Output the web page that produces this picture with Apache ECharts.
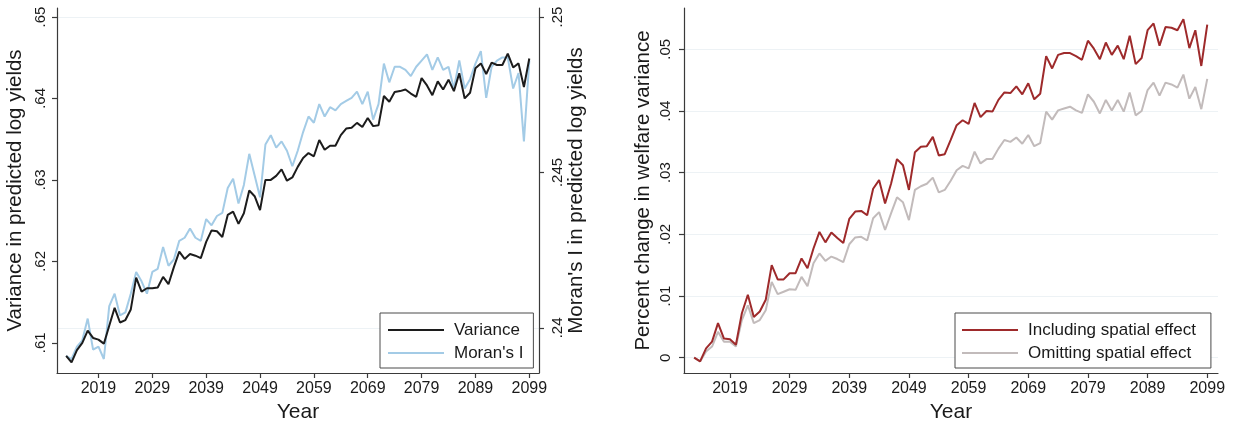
<!DOCTYPE html>
<html>
<head>
<meta charset="utf-8">
<script src="https://cdn.jsdelivr.net/npm/echarts@6/dist/echarts.min.js"></script>
<style>
html,body{margin:0;padding:0;background:#fff;}
#c{width:1237px;height:424px;}
</style>
</head>
<body>
<div id="c"></div>
<script>
const years = [2013,2014,2015,2016,2017,2018,2019,2020,2021,2022,2023,2024,2025,2026,2027,2028,2029,2030,
2031,2032,2033,2034,2035,2036,2037,2038,2039,2040,2041,2042,2043,2044,2045,2046,2047,2048,2049,2050,
2051,2052,2053,2054,2055,2056,2057,2058,2059,2060,2061,2062,2063,2064,2065,2066,2067,2068,2069,2070,
2071,2072,2073,2074,2075,2076,2077,2078,2079,2080,2081,2082,2083,2084,2085,2086,2087,2088,2089,2090,
2091,2092,2093,2094,2095,2096,2097,2098,2099];
const xTickYears = [2019,2029,2039,2049,2059,2069,2079,2089,2099];

const varianceVals = [.6084,.6076,.6091,.6100,.6115,.6106,.6104,.6099,.6121,.6143,.6125,.6128,.6141,.6180,.6163,.6167,.6167,.6168,
.6181,.6172,.6193,.6212,.6203,.6209,.6207,.6204,.6224,.6238,.6237,.6230,.6257,.6261,.6246,.6259,.6287,.6280,.6263,.6300,
.6300,.6305,.6313,.6299,.6303,.6316,.6327,.6333,.6329,.6349,.6337,.6342,.6342,.6355,.6363,.6364,.6370,.6365,.6376,.6366,
.6367,.6403,.6396,.6408,.6409,.6411,.6406,.6402,.6425,.6416,.6404,.6421,.6411,.6423,.6409,.6431,.6400,.6407,.6437,.6443,
.6430,.6444,.6441,.6441,.6455,.6438,.6443,.6414,.6449];

const moranVals = [.2391,.2390,.2394,.2396,.2403,.2393,.2394,.2390,.2407,.2411,.2404,.2405,.2411,.2418,.2415,.2411,.2418,.2419,
.2426,.2420,.2422,.2428,.2429,.2432,.2429,.2428,.2435,.2433,.2436,.2437,.2445,.2448,.2440,.2446,.2456,.2449,.2442,.2459,
.2462,.2458,.2460,.2457,.2452,.2457,.2463,.2468,.2466,.2472,.2468,.2471,.2470,.2472,.2473,.2474,.2476,.2472,.2476,.2467,
.2472,.2485,.2479,.2484,.2484,.2483,.2481,.2484,.2486,.2488,.2483,.2487,.2483,.2484,.2477,.2486,.2477,.2480,.2485,.2489,
.2474,.2484,.2486,.2487,.2487,.2477,.2482,.2460,.2486];

const inclVals = [.0000,-.0006,.0015,.0026,.0056,.0031,.0030,.0021,.0072,.0102,.0066,.0075,.0094,.0150,.0127,.0127,.0137,.0137,
.0161,.0145,.0177,.0204,.0187,.0203,.0194,.0186,.0225,.0237,.0238,.0231,.0274,.0288,.0250,.0282,.0322,.0312,.0272,.0333,
.0342,.0343,.0358,.0328,.0330,.0353,.0377,.0385,.0379,.0413,.0390,.0400,.0399,.0418,.0430,.0429,.0440,.0427,.0445,.0419,
.0428,.0489,.0469,.0491,.0494,.0494,.0489,.0483,.0514,.0501,.0484,.0511,.0491,.0506,.0484,.0522,.0476,.0486,.0531,.0542,
.0506,.0536,.0535,.0531,.0549,.0502,.0531,.0473,.0540];

const omitVals = [.0000,-.0006,.0010,.0018,.0042,.0026,.0026,.0018,.0061,.0085,.0056,.0061,.0077,.0123,.0103,.0107,.0111,.0110,
.0131,.0116,.0153,.0169,.0157,.0164,.0160,.0155,.0184,.0195,.0196,.0190,.0226,.0236,.0207,.0234,.0260,.0252,.0223,.0272,
.0278,.0282,.0292,.0268,.0272,.0287,.0304,.0311,.0307,.0334,.0315,.0322,.0322,.0339,.0353,.0350,.0357,.0347,.0361,.0343,
.0348,.0399,.0386,.0401,.0404,.0407,.0401,.0397,.0427,.0415,.0396,.0418,.0401,.0418,.0399,.0430,.0393,.0400,.0434,.0446,
.0425,.0446,.0443,.0438,.0459,.0420,.0439,.0403,.0452];

const varTicks = [0.61, 0.62, 0.63, 0.64, 0.65];
const moranTicks = [0.24, 0.245, 0.25];
const welfareTicks = [0, 0.01, 0.02, 0.03, 0.04, 0.05];

const seriesNames = ['Variance', "Moran's I", 'Including spatial effect', 'Omitting spatial effect'];
const xTitle = 'Year';
const yTitles = ['Variance in predicted log yields', "Moran's I in predicted log yields", 'Percent change in welfare variance'];

const pair = (vals) => years.map((y, i) => [y, vals[i]]);
const fmt = (v) => String(+v.toFixed(4)).replace(/^0\./, '.').replace(/^-0\./, '-.');

const FONT = "'Liberation Sans', Arial, sans-serif";
const AXC = '#3a3a3a';
const GRIDC = '#edf2f5';

function xAxisDef(gi) {
  return {
    type: 'value', gridIndex: gi, min: 2011.3, max: 2100.8,
    name: xTitle, nameLocation: 'middle', nameGap: 24,
    nameTextStyle: { fontFamily: FONT, fontSize: 21, color: '#1a1a1a', verticalAlign: 'top' },
    axisLine: { show: true, onZero: false, lineStyle: { color: AXC, width: 1.2 } },
    axisTick: { show: true, length: 5, customValues: xTickYears, lineStyle: { color: AXC, width: 1.2 } },
    axisLabel: { customValues: xTickYears, margin: 8, fontFamily: FONT, fontSize: 16, color: '#1a1a1a', formatter: (v) => String(v) },
    splitLine: { show: false }
  };
}
function yAxisDef(gi, pos, min, max, ticks, title, gap, margin) {
  return {
    type: 'value', gridIndex: gi, position: pos, min: min, max: max,
    name: title, nameLocation: 'middle', nameGap: gap, nameRotate: 90,
    nameTextStyle: { fontFamily: FONT, fontSize: 20.5, color: '#1a1a1a' },
    axisLine: { show: true, onZero: false, lineStyle: { color: AXC, width: 1.2 } },
    axisTick: { show: true, length: 5, customValues: ticks, lineStyle: { color: AXC, width: 1.2 } },
    axisLabel: { customValues: ticks, rotate: 90, margin: margin, fontFamily: FONT, fontSize: 15, color: '#1a1a1a', formatter: fmt },
    splitLine: { show: false }
  };
}
function gridLines(xi, yi, ticks) {
  return {
    type: 'line', xAxisIndex: xi, yAxisIndex: yi, data: [], z: 0, silent: true,
    markLine: {
      silent: true, z: 0, symbol: ['none', 'none'], label: { show: false }, animation: false,
      lineStyle: { color: GRIDC, width: 1.2, type: 'solid' },
      data: ticks.map(t => ({ yAxis: t }))
    }
  };
}
function lineSeries(name, xi, yi, vals, color, z) {
  return {
    name: name, type: 'line', xAxisIndex: xi, yAxisIndex: yi, data: pair(vals),
    showSymbol: false, symbol: 'none', color: color, z: z,
    lineStyle: { color: color, width: 2 }
  };
}
function legendDef(names, left, top, padding) {
  return {
    data: names, orient: 'vertical', left: left, top: top, padding: padding, z: 10,
    borderColor: '#4a4a4a', borderWidth: 1, backgroundColor: '#fff',
    icon: 'rect', itemWidth: 56, itemHeight: 2, itemGap: 3,
    textStyle: { fontFamily: FONT, fontSize: 17, lineHeight: 20, color: '#1a1a1a', padding: [0, 0, 0, 5] },
    selectedMode: false
  };
}

const chart = echarts.init(document.getElementById('c'), null, { renderer: 'canvas' });
chart.setOption({
  animation: false,
  backgroundColor: '#ffffff',
  grid: [
    { left: 57, top: 8, width: 482, height: 365, outerBoundsMode: 'none', containLabel: false },
    { left: 684, top: 8, width: 534, height: 365, outerBoundsMode: 'none', containLabel: false }
  ],
  xAxis: [xAxisDef(0), xAxisDef(1)],
  yAxis: [
    yAxisDef(0, 'left', 0.6063, 0.6511, varTicks, yTitles[0], 31, 9),
    yAxisDef(0, 'right', 0.23855, 0.25029, moranTicks, yTitles[1], 21, 11),
    yAxisDef(1, 'left', -0.00248, 0.0567, welfareTicks, yTitles[2], 30, 11)
  ],
  legend: [
    legendDef([seriesNames[0], seriesNames[1]], 380, 313, [7, 10, 5, 8]),
    legendDef([seriesNames[2], seriesNames[3]], 955, 313, [7, 15, 5, 7])
  ],
  series: [
    gridLines(0, 1, moranTicks),
    gridLines(1, 2, welfareTicks),
    lineSeries(seriesNames[1], 0, 1, moranVals, '#a3cbe6', 2),
    lineSeries(seriesNames[0], 0, 0, varianceVals, '#1c1c1c', 3),
    lineSeries(seriesNames[3], 1, 2, omitVals, '#c2bbbb', 2),
    lineSeries(seriesNames[2], 1, 2, inclVals, '#9e2a2b', 3)
  ]
});
</script>
</body>
</html>
